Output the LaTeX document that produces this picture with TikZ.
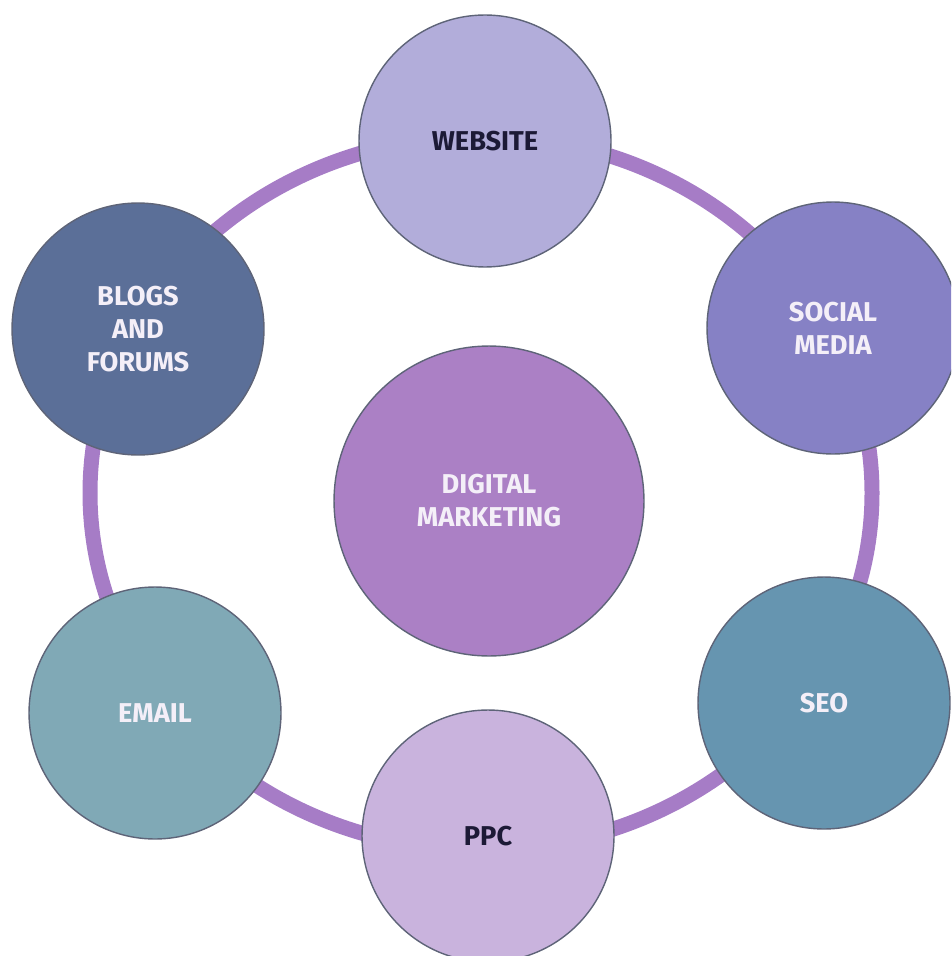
\documentclass[tikz,border=0pt]{standalone}
\usepackage{fontspec}
\newfontfamily\labelfont{Fira Sans}
\definecolor{ringpurple}{HTML}{A67CC6}
\definecolor{edgegray}{HTML}{5E6478}
\definecolor{darktext}{HTML}{1C1A36}
\definecolor{lighttext}{HTML}{F4EFF8}
\definecolor{hubfill}{HTML}{AB80C5}
\definecolor{webfill}{HTML}{B2ADDA}
\definecolor{socialfill}{HTML}{8681C5}
\definecolor{seofill}{HTML}{6695B0}
\definecolor{ppcfill}{HTML}{C9B3DD}
\definecolor{emailfill}{HTML}{80A9B6}
\definecolor{blogsfill}{HTML}{5B6F98}

\begin{document}
\begin{tikzpicture}[x=0.02cm,y=-0.02cm,
  topic/.style={circle,draw=edgegray,line width=0.8pt,minimum size=5.04cm,
    inner sep=0pt,align=center,text=lighttext,
    font=\labelfont\bfseries\fontsize{15.5}{18.8}\selectfont},
  hub/.style={topic,minimum size=6.2cm},
  ring/.style={draw=ringpurple,line width=0.3cm}]
\clip (0,0) rectangle (951,956);

% Ring behind the topics
\coordinate (ringc) at (481,493);
\draw[ring] (ringc) ellipse [x radius=391,y radius=357];

% Central topic
\node[hub,fill=hubfill] (market) at (489,501) {DIGITAL\\MARKETING};

% Topics round the ring
\node[topic,fill=webfill,text=darktext] (web) at (485,141) {WEBSITE};
\node[topic,fill=socialfill] (social) at (833,328) {SOCIAL\\MEDIA};
\node[topic,fill=seofill] (seo) at (824,703) {SEO};
\node[topic,fill=ppcfill,text=darktext] (ppc) at (488,836) {PPC};
\node[topic,fill=emailfill] (email) at (155,713) {EMAIL};
\node[topic,fill=blogsfill] (blogs) at (138,329) {BLOGS\\AND\\FORUMS};
\end{tikzpicture}
\end{document}
